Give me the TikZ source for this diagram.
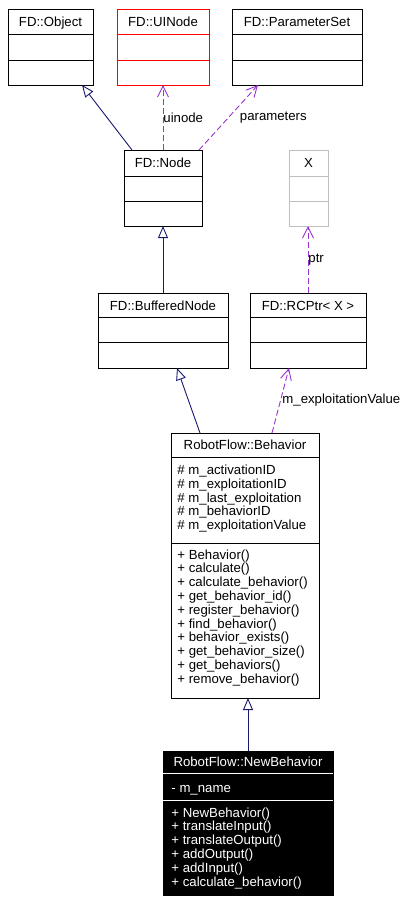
\documentclass[tikz,border=0pt]{standalone}
\usepackage{fontspec}
\setmainfont{Liberation Sans}
\usetikzlibrary{arrows.meta}
\usetikzlibrary{positioning}
\definecolor{midnightblue}{HTML}{191970}
\definecolor{orchidthree}{HTML}{9A32CD}
\definecolor{greyseventyfive}{HTML}{BFBFBF}
\tikzset{
% class boxes and their texts
classbox/.style={rectangle, draw=black, inner sep=0, outer sep=0},
title/.style={anchor=base, inner sep=0},
member/.style={anchor=base west, inner sep=0},
% edges
inherit/.style={draw=midnightblue, -{Triangle[open, length=12pt, width=10pt]}},
uses/.style={draw=orchidthree, dash pattern=on 6pt off 3pt, -{Straight Barb[length=11pt, width=11pt]}},
edgelabel/.style={inner sep=0, text=black}
}

\begin{document}
\begin{tikzpicture}[x=1pt, y=-1pt, line width=0.9pt, font=\fontsize{13.2}{13.8}\selectfont]
  \useasboundingbox (0,0) rectangle (410,906);

  % top row
  \node[classbox, minimum width=85pt, minimum height=76pt] (Object) at (50.5,47) {};
  \node[title] (Object-title) at ([yshift=-17pt]Object.north) {FD::Object};
  \draw ([yshift=-25pt]Object.north west) -- ([yshift=-25pt]Object.north east);
  \draw ([yshift=-51pt]Object.north west) -- ([yshift=-51pt]Object.north east);

  \node[classbox, draw=red, minimum width=92pt, minimum height=76pt] (UINode) at (163,47) {};
  \node[title] (UINode-title) at ([yshift=-17pt]UINode.north) {FD::UINode};
  \draw[red] ([yshift=-25pt]UINode.north west) -- ([yshift=-25pt]UINode.north east);
  \draw[red] ([yshift=-51pt]UINode.north west) -- ([yshift=-51pt]UINode.north east);

  \node[classbox, minimum width=130pt, minimum height=76pt] (ParameterSet) at (297,47) {};
  \node[title] (ParameterSet-title) at ([yshift=-17pt]ParameterSet.north) {FD::ParameterSet};
  \draw ([yshift=-25pt]ParameterSet.north west) -- ([yshift=-25pt]ParameterSet.north east);
  \draw ([yshift=-51pt]ParameterSet.north west) -- ([yshift=-51pt]ParameterSet.north east);

  % second row
  \node[classbox, minimum width=78pt, minimum height=76pt] (Node) at (163,188) {};
  \node[title] (Node-title) at ([yshift=-17pt]Node.north) {FD::Node};
  \draw ([yshift=-26pt]Node.north west) -- ([yshift=-26pt]Node.north east);
  \draw ([yshift=-51pt]Node.north west) -- ([yshift=-51pt]Node.north east);

  \node[classbox, draw=greyseventyfive, minimum width=39pt, minimum height=76pt] (X) at (308.5,188) {};
  \node[title] (X-title) at ([yshift=-17pt]X.north) {X};
  \draw[greyseventyfive] ([yshift=-26pt]X.north west) -- ([yshift=-26pt]X.north east);
  \draw[greyseventyfive] ([yshift=-51pt]X.north west) -- ([yshift=-51pt]X.north east);

  % third row
  \node[classbox, minimum width=130pt, minimum height=75pt] (BufferedNode) at (163,330.5) {};
  \node[title] (BufferedNode-title) at ([yshift=-17pt]BufferedNode.north) {FD::BufferedNode};
  \draw ([yshift=-24pt]BufferedNode.north west) -- ([yshift=-24pt]BufferedNode.north east);
  \draw ([yshift=-49pt]BufferedNode.north west) -- ([yshift=-49pt]BufferedNode.north east);

  \node[classbox, minimum width=116pt, minimum height=75pt] (RCPtr) at (308,330.5) {};
  \node[title] (RCPtr-title) at ([yshift=-17pt]RCPtr.north) {FD::RCPtr< X >};
  \draw ([yshift=-24pt]RCPtr.north west) -- ([yshift=-24pt]RCPtr.north east);
  \draw ([yshift=-49pt]RCPtr.north west) -- ([yshift=-49pt]RCPtr.north east);

  % RobotFlow::Behavior
  \node[classbox, minimum width=148pt, minimum height=265pt] (Behavior) at (245,565.5) {};
  \node[title] (Behavior-title) at ([yshift=-16.5pt]Behavior.north) {RobotFlow::Behavior};
  \draw ([yshift=-24pt]Behavior.north west) -- ([yshift=-24pt]Behavior.north east);
  \draw ([yshift=-110pt]Behavior.north west) -- ([yshift=-110pt]Behavior.north east);
  \foreach \txt [count=\i from 0] in {\# m\_activationID, \# m\_exploitationID, \# m\_last\_exploitation, \# m\_behaviorID, \# m\_exploitationValue}
    \node[member] (Behavior-attr\i) at ([xshift=6pt, yshift={-41.5pt-\i*13.8pt}]Behavior.north west) {\txt};
  \foreach \txt [count=\i from 0] in {+ Behavior(), + calculate(), + calculate\_behavior(), + get\_behavior\_id(), + register\_behavior(), + find\_behavior(), + behavior\_exists(), + get\_behavior\_size(), + get\_behaviors(), + remove\_behavior()}
    \node[member] (Behavior-op\i) at ([xshift=6pt, yshift={-126pt-\i*13.8pt}]Behavior.north west) {\txt};

  % RobotFlow::NewBehavior
  \node[classbox, fill=black, minimum width=170pt, minimum height=144pt] (NewBehavior) at (248,823) {};
  \node[title, text=white] (NewBehavior-title) at ([yshift=-15.5pt]NewBehavior.north) {RobotFlow::NewBehavior};
  \draw[white] ([yshift=-22pt]NewBehavior.north west) -- ([yshift=-22pt]NewBehavior.north east);
  \draw[white] ([yshift=-49pt]NewBehavior.north west) -- ([yshift=-49pt]NewBehavior.north east);
  \node[member, text=white] (NewBehavior-attr) at ([xshift=8pt, yshift=-41pt]NewBehavior.north west) {- m\_name};
  \foreach \txt [count=\i from 0] in {+ NewBehavior(), + translateInput(), + translateOutput(), + addOutput(), + addInput(), + calculate\_behavior()}
    \node[member, text=white] (NewBehavior-op\i) at ([xshift=8pt, yshift={-66pt-\i*13.8pt}]NewBehavior.north west) {\txt};

  % edges
  \draw[inherit] ([xshift=8pt]Node.north west) -- ([xshift=74pt]Object.south west);
  \draw[uses] (Node.north) -- (UINode.south)
    node[edgelabel, pos=0.5, anchor=west] (uinode-label) {uinode};
  \draw[uses] ([xshift=-3pt]Node.north east) -- ([xshift=26pt]ParameterSet.south west)
    node[edgelabel, pos=0.5, anchor=west, xshift=11pt] (parameters-label) {parameters};
  \draw[inherit] (BufferedNode.north) -- (BufferedNode.north |- Node.south);
  \draw[uses] (RCPtr.north) -- (RCPtr.north |- X.south)
    node[edgelabel, pos=0.5, anchor=west] (ptr-label) {ptr};
  \draw[inherit] ([xshift=29pt]Behavior.north west) -- ([xshift=79pt]BufferedNode.south west);
  \draw[uses] ([xshift=101pt]Behavior.north west) -- ([xshift=39pt]RCPtr.south west)
    node[edgelabel, pos=0.5, anchor=west, xshift=1.5pt] (exploitation-label) {m\_exploitationValue};
  \draw[inherit] (NewBehavior.north) -- (NewBehavior.north |- Behavior.south);
\end{tikzpicture}
\end{document}
